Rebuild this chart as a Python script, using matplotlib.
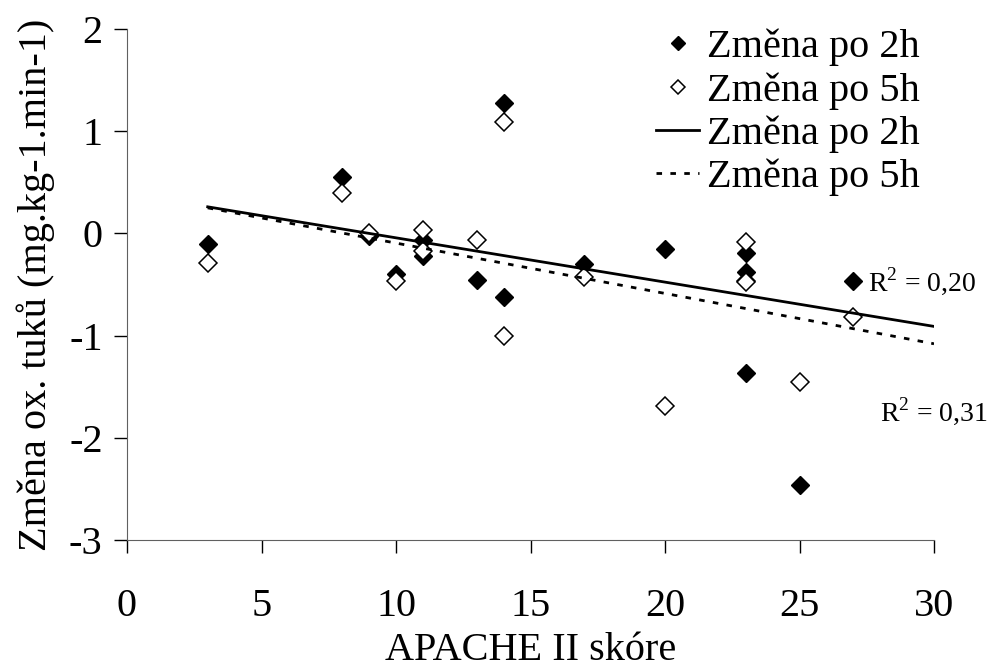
import numpy as np
import matplotlib
matplotlib.use('Agg')
import matplotlib.pyplot as plt

# data
apache_2h = [3, 8, 9, 10, 11, 11, 13, 14, 14, 17, 20, 23, 23, 23, 25, 27]
zmena_2h = [-0.10, 0.55, -0.03, -0.40, -0.06, -0.22, -0.46, 1.28, -0.62, -0.30, -0.15, -0.19, -0.38, -1.37, -2.46, -0.47]
apache_5h = [3, 8, 9, 10, 11, 11, 13, 14, 14, 17, 20, 23, 23, 23, 25, 27]
zmena_5h = [-0.29, 0.40, 0.00, -0.47, 0.03, -0.17, -0.06, 1.09, -1.00, -0.43, -1.69, -0.08, -0.47, -0.48, -1.45, -0.82]

# trend lines, x from 3 to 30
trend_x = [3, 30]
trend_2h = [0.26, -0.91]
trend_5h = [0.25, -1.08]
r2_labels = ['R$^2$ = 0,20', 'R$^2$ = 0,31']

plt.rcParams['font.family'] = ['Liberation Serif', 'DejaVu Serif']
plt.rcParams['mathtext.fontset'] = 'custom'
plt.rcParams['mathtext.rm'] = 'Liberation Serif'
plt.rcParams['axes.unicode_minus'] = False

fig = plt.figure(figsize=(9.89, 6.71), dpi=100)
ax = fig.add_axes([127/989, 1 - 540/671, (934-127)/989, (540-29)/671])

ax.plot(apache_2h, zmena_2h, 'D', color='black', markersize=9.5, linestyle='none', label='Změna po 2h')
ax.plot(apache_5h, zmena_5h, 'D', markerfacecolor='white', markeredgecolor='black',
        markeredgewidth=1.1, markersize=9.5, linestyle='none', label='Změna po 5h')
ax.plot(trend_x, trend_2h, '-', color='black', linewidth=2, label='Změna po 2h')
ax.plot(trend_x, trend_5h, color='black', linewidth=2, linestyle=(0, (2, 3)), label='Změna po 5h')

ax.text(27.55, -0.47, r2_labels[0], fontsize=20, va='center', ha='left')
ax.text(28.0, -1.74, r2_labels[1], fontsize=20, va='center', ha='left')

ax.set_xlim(0, 30)
ax.set_ylim(-3, 2)
ax.set_xticks(range(0, 31, 5))
ax.set_yticks(range(-3, 3))
ax.tick_params(labelsize=29, direction='out', length=9.5, width=1, colors='black')
ax.tick_params(axis='x', pad=25)
ax.tick_params(axis='y', pad=8)
for s in ['top', 'right']:
    ax.spines[s].set_visible(False)
ax.spines['left'].set_color('#606060')
ax.spines['bottom'].set_color('#606060')

ax.set_xlabel('APACHE II skóre', fontsize=29, labelpad=5)
ax.set_ylabel('Změna ox. tuků (mg.kg-1.min-1)', fontsize=29, labelpad=10)

ax.legend(loc='upper right', bbox_to_anchor=(0.982, 1.0), fontsize=29, frameon=False,
          markerscale=0.7, handlelength=1.05, handletextpad=0.2, labelspacing=0.14,
          borderaxespad=0, borderpad=0)

fig.savefig('out.png', dpi=100)
